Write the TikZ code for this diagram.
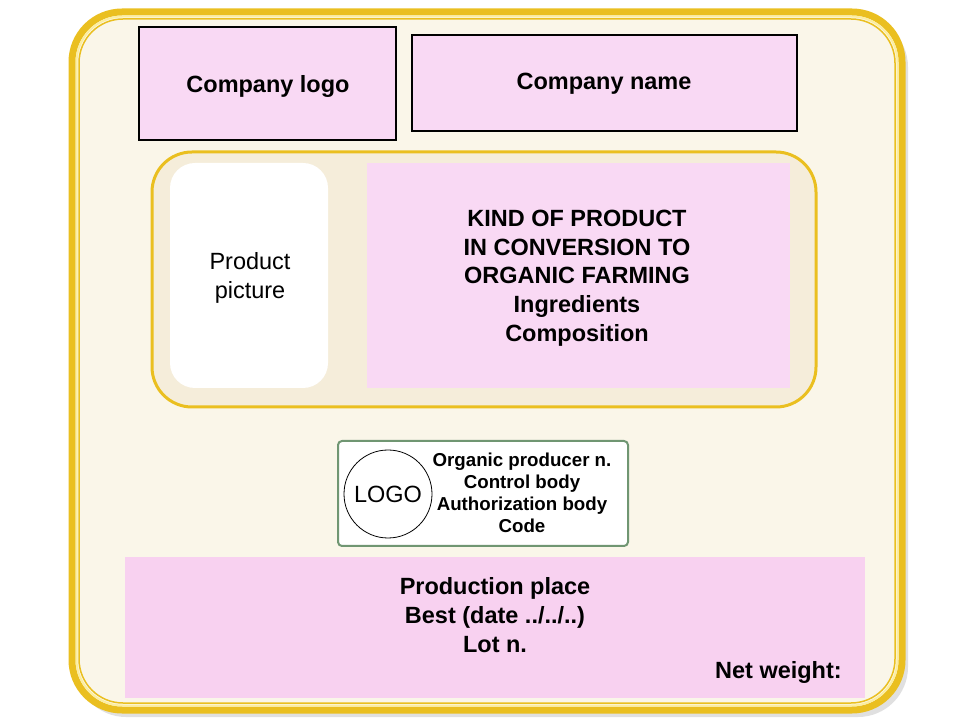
\documentclass[tikz,border=0pt]{standalone}
\usepackage{fontspec}
\setmainfont{Liberation Sans}
\usetikzlibrary{backgrounds}
\definecolor{gold}{RGB}{234,191,32}
\definecolor{paleyellow}{RGB}{252,238,160}
\definecolor{cream}{RGB}{250,246,233}
\definecolor{sand}{RGB}{245,237,218}
\definecolor{pinkbox}{RGB}{249,217,244}
\definecolor{pinkband}{RGB}{248,209,240}
\definecolor{sage}{RGB}{112,150,114}
\newcommand{\px}{0.025cm}
\newcommand{\bigtext}{\fontsize{16.7}{20.4}\selectfont}
\newcommand{\smalltext}{\fontsize{13.3}{15.6}\selectfont}
\tikzset{
  labelbox/.style={draw=black, line width=1.3*\px, fill=pinkbox, font=\bigtext\bfseries},
  plainbox/.style={fill=pinkbox, inner sep=0pt},
  bandbox/.style={fill=pinkband, inner sep=0pt},
  words/.style={align=center, inner sep=0pt}
}

\begin{document}
\begin{tikzpicture}[x=\px, y=-\px]
\useasboundingbox (0,0) rectangle (960,720);
%frame
\fill[black!30, opacity=0.4, rounded corners=50*\px] (76,17) rectangle (908,717);
\draw[gold, line width=7*\px, fill=cream, rounded corners=50*\px] (72,12) rectangle (902,710);
\draw[paleyellow, line width=2*\px, rounded corners=46*\px] (76.5,16.5) rectangle (897.5,705.5);
\draw[gold, line width=1.5*\px, rounded corners=44*\px] (79,19) rectangle (895,703);
%top boxes
\node[labelbox, minimum width=257*\px, minimum height=113*\px] (logo) at (267.5,83.5) {};
\node[words, font=\bigtext\bfseries] (logotext) at (268,86) {Company logo};
\node[labelbox, minimum width=385*\px, minimum height=96*\px] (name) at (604.5,83) {};
\node[words, font=\bigtext\bfseries] (nametext) at (604,84) {Company name};
%product panel
\draw[gold, line width=3*\px, fill=sand, rounded corners=40*\px] (152,152) rectangle (816,407);
\node[fill=white, rounded corners=25*\px, minimum width=158*\px, minimum height=225*\px] (picture) at (249,275.5) {};
\node[words, font=\bigtext] (picturetext) at (250,278) {Product\\picture};
\node[plainbox, minimum width=423*\px, minimum height=225*\px] (kind) at (578.5,275.5) {};
\node[words, font=\bigtext\bfseries] (kindtext) at (577,278)
  {KIND OF PRODUCT\\IN CONVERSION TO\\ORGANIC FARMING\\Ingredients\\Composition};
%organic logo
\node[draw=sage, line width=2*\px, fill=white, rounded corners=4*\px,
  minimum width=290*\px, minimum height=105*\px] (organic) at (483,493.5) {};
\node[draw=black, line width=0.8*\px, circle, fill=white, minimum size=88*\px,
  font=\bigtext, inner sep=0pt] (circle) at (388,494) {LOGO};
\node[words, font=\smalltext\bfseries] (codes) at (522,493)
  {Organic producer n.\\Control body\\Authorization body\\Code};
%bottom band
\node[bandbox, minimum width=740*\px, minimum height=141*\px] (band) at (495,627.5) {};
\node[words, font=\bigtext\bfseries] (place) at (495,615)
  {Production place\\Best (date ../../..)\\Lot n.};
\node[words, font=\bigtext\bfseries, anchor=east] (weight) at (842,672) {Net weight:};
\end{tikzpicture}
\end{document}
